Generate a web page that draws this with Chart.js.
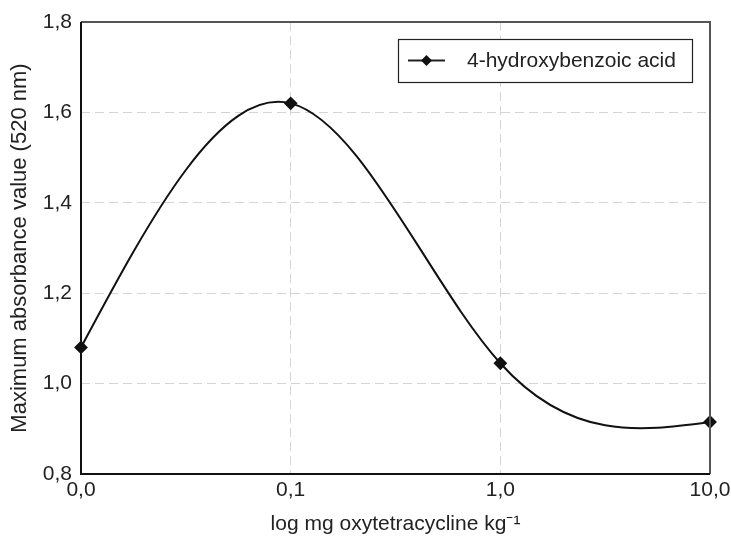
<!DOCTYPE html>
<html>
<head>
<meta charset="utf-8">
<script src="https://cdn.jsdelivr.net/npm/chart.js@4.4.1/dist/chart.umd.min.js"></script>
<style>
  html, body { margin: 0; padding: 0; background: #fff; }
  #wrap { width: 731px; height: 544px; }
</style>
</head>
<body>
<div id="wrap"><canvas id="absorbanceChart"></canvas></div>
<script>
const doseLabels = ['0,0', '0,1', '1,0', '10,0'];
const absorbance = [1.08, 1.62, 1.045, 0.915];
const seriesName = '4-hydroxybenzoic acid';
const yMin = 0.8, yMax = 1.8, yStep = 0.2;

const FONT = '"Liberation Sans", Arial, sans-serif';
const fmt = v => v.toFixed(1).replace('.', ',');

// natural cubic spline second derivatives (unit spacing between categories)
function splineM(y) {
  const n = y.length;
  const M = new Array(n).fill(0);
  if (n < 3) return M;
  const a = [], b = [], c = [], d = [];
  for (let i = 1; i < n - 1; i++) {
    a.push(1); b.push(4); c.push(1);
    d.push(6 * (y[i - 1] - 2 * y[i] + y[i + 1]));
  }
  const m = d.length;
  for (let i = 1; i < m; i++) {
    const w = a[i] / b[i - 1];
    b[i] -= w * c[i - 1];
    d[i] -= w * d[i - 1];
  }
  const sol = new Array(m);
  sol[m - 1] = d[m - 1] / b[m - 1];
  for (let i = m - 2; i >= 0; i--) sol[i] = (d[i] - c[i] * sol[i + 1]) / b[i];
  for (let i = 0; i < m; i++) M[i + 1] = sol[i];
  return M;
}

// smooth line through the data, drawn with the chart's own scales
const splineLine = {
  id: 'splineLine',
  beforeDatasetsDraw(chart) {
    const { ctx, scales: { x, y }, chartArea: a } = chart;
    const v = absorbance;
    const M = splineM(v);
    ctx.save();
    ctx.beginPath();
    ctx.rect(a.left, a.top, a.right - a.left, a.bottom - a.top);
    ctx.clip();
    ctx.strokeStyle = '#111';
    ctx.lineWidth = 2;
    ctx.lineJoin = 'round';
    ctx.beginPath();
    ctx.moveTo(x.getPixelForValue(0), y.getPixelForValue(v[0]));
    for (let i = 0; i < v.length - 1; i++) {
      const dy = v[i + 1] - v[i];
      const d0 = dy - (2 * M[i] + M[i + 1]) / 6;
      const d1 = dy + (M[i] + 2 * M[i + 1]) / 6;
      ctx.bezierCurveTo(
        x.getPixelForValue(i + 1 / 3), y.getPixelForValue(v[i] + d0 / 3),
        x.getPixelForValue(i + 2 / 3), y.getPixelForValue(v[i + 1] - d1 / 3),
        x.getPixelForValue(i + 1), y.getPixelForValue(v[i + 1])
      );
    }
    ctx.stroke();
    ctx.restore();
  }
};

// frame around the plot + legend box inside it (top right)
const boxLegend = {
  id: 'boxLegend',
  afterDraw(chart) {
    const { ctx, chartArea: a } = chart;
    ctx.save();
    ctx.lineWidth = 2;
    ctx.strokeStyle = '#555';
    ctx.beginPath();
    ctx.moveTo(a.left, a.top);
    ctx.lineTo(a.right, a.top);
    ctx.lineTo(a.right, a.bottom);
    ctx.stroke();
    ctx.strokeStyle = '#111';
    ctx.beginPath();
    ctx.moveTo(a.left, a.top);
    ctx.lineTo(a.left, a.bottom);
    ctx.lineTo(a.right, a.bottom);
    ctx.stroke();

    const w = 294, h = 43;
    const x = a.right - 18 - w, y = a.top + 17;
    ctx.fillStyle = '#fff';
    ctx.fillRect(x, y, w, h);
    ctx.lineWidth = 1.2;
    ctx.strokeStyle = '#222';
    ctx.strokeRect(x + 0.5, y + 0.5, w, h);

    const cy = y + h / 2;
    ctx.beginPath();
    ctx.lineWidth = 2;
    ctx.moveTo(x + 10, cy);
    ctx.lineTo(x + 47, cy);
    ctx.stroke();
    ctx.fillStyle = '#111';
    ctx.beginPath();
    ctx.moveTo(x + 28.5, cy - 5.5);
    ctx.lineTo(x + 34, cy);
    ctx.lineTo(x + 28.5, cy + 5.5);
    ctx.lineTo(x + 23, cy);
    ctx.closePath();
    ctx.fill();

    ctx.font = '21px ' + FONT;
    ctx.fillStyle = '#222';
    ctx.textBaseline = 'middle';
    ctx.fillText(seriesName, x + 69, cy + 1);
    ctx.restore();
  }
};

new Chart(document.getElementById('absorbanceChart'), {
  type: 'line',
  data: {
    labels: doseLabels,
    datasets: [{
      label: seriesName,
      data: absorbance,
      showLine: false,
      borderColor: '#111',
      backgroundColor: '#111',
      borderWidth: 2,
      pointStyle: 'rectRot',
      pointRadius: 5.5,
      pointHoverRadius: 5.5,
      clip: false
    }]
  },
  options: {
    responsive: true,
    maintainAspectRatio: false,
    animation: false,
    layout: { padding: { top: 22, right: 21, left: 0, bottom: 0 } },
    plugins: {
      legend: { display: false },
      tooltip: { enabled: false }
    },
    scales: {
      x: {
        offset: false,
        afterFit: s => { s.height = 70; s.paddingLeft = 0; s.paddingRight = 0; },
        grid: {
          drawTicks: false,
          color: c => (c.index === 0 || c.index === doseLabels.length - 1) ? 'transparent' : '#d4d4d4'
        },
        border: { display: false, dash: [9, 5] },
        ticks: { color: '#222', font: { family: FONT, size: 21 }, padding: 4, maxRotation: 0 },
        title: {
          display: true,
          text: 'log mg oxytetracycline kg\u207B\u00B9',
          color: '#222',
          font: { family: FONT, size: 21 },
          padding: { top: 0, bottom: 7 }
        }
      },
      y: {
        min: yMin,
        max: yMax,
        afterFit: s => { s.width = 81; },
        grid: {
          drawTicks: false,
          color: c => (Math.abs(c.tick.value - yMin) < 1e-6 || Math.abs(c.tick.value - yMax) < 1e-6) ? 'transparent' : '#d4d4d4'
        },
        border: { display: false, dash: [9, 5] },
        ticks: {
          stepSize: yStep,
          color: '#222',
          font: { family: FONT, size: 21 },
          padding: 9,
          callback: v => fmt(v)
        },
        title: {
          display: true,
          text: 'Maximum absorbance value (520 nm)',
          color: '#222',
          font: { family: FONT, size: 22 },
          padding: { top: 7, bottom: 0 }
        }
      }
    }
  },
  plugins: [splineLine, boxLegend]
});
</script>
</body>
</html>
